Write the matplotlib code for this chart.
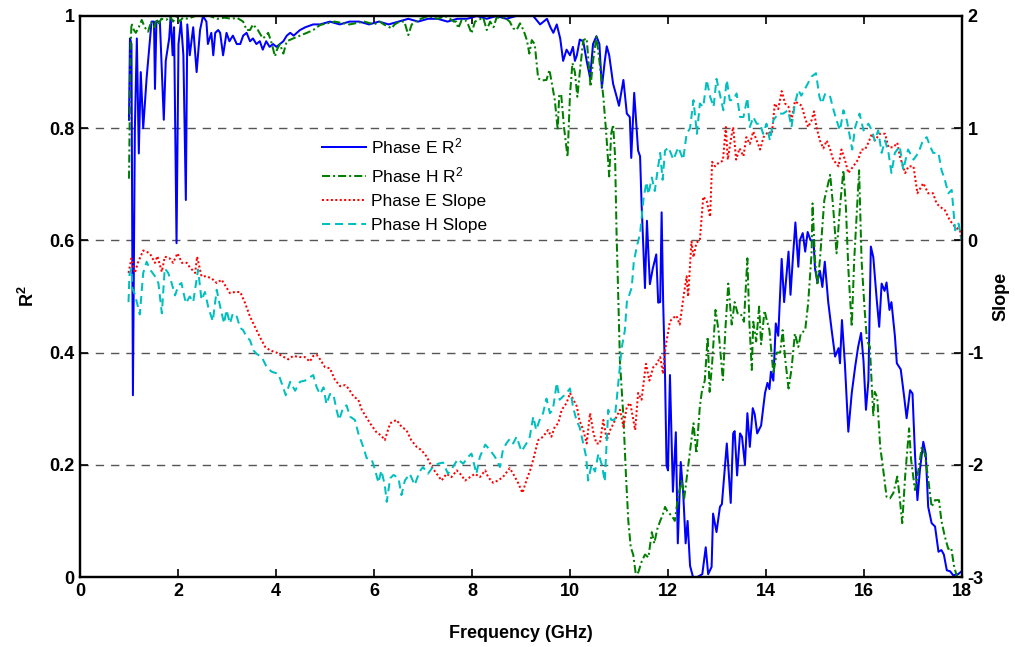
import matplotlib
matplotlib.use("Agg")
import matplotlib.pyplot as plt
from matplotlib.ticker import FixedLocator, FuncFormatter

plt.rcParams['font.family'] = ['Liberation Sans', 'DejaVu Sans']
plt.rcParams['mathtext.default'] = 'regular'
plt.rcParams['axes.unicode_minus'] = False

# ---------------- data ----------------
freq_e_r2 = [1.00, 1.02, 1.05, 1.08, 1.12, 1.16, 1.20, 1.24, 1.29, 1.36, 1.46, 1.51, 1.53, 1.56, 1.63, 1.71, 1.75,
             1.82, 1.85, 1.89, 1.92, 1.97, 2.01, 2.06, 2.11, 2.16, 2.19, 2.24, 2.31, 2.38, 2.45, 2.51, 2.58, 2.61,
             2.68, 2.72, 2.76, 2.82, 2.86, 2.92, 2.99, 3.05, 3.12, 3.20, 3.27, 3.33, 3.40, 3.47, 3.53, 3.60, 3.67,
             3.73, 3.80, 3.87, 3.94, 4.01, 4.08, 4.15, 4.22, 4.29, 4.36, 4.49, 4.60, 4.76, 4.90, 5.10, 5.30, 5.50,
             5.70, 5.90, 6.10, 6.30, 6.50, 6.70, 6.90, 7.10, 7.30, 7.50, 7.70, 7.90, 8.10, 8.30, 8.50, 8.70, 8.90,
             9.10, 9.25, 9.39, 9.46, 9.53, 9.60, 9.66, 9.73, 9.80, 9.86, 9.93, 10.00, 10.06, 10.10, 10.14, 10.20,
             10.27, 10.34, 10.41, 10.47, 10.54, 10.60, 10.65, 10.71, 10.75, 10.80, 10.88, 10.94, 11.00, 11.09, 11.16,
             11.22, 11.25, 11.31, 11.35, 11.39, 11.43, 11.46, 11.53, 11.57, 11.63, 11.69, 11.76, 11.80, 11.84, 11.87,
             11.90, 11.94, 11.97, 12.00, 12.04, 12.10, 12.16, 12.20, 12.26, 12.31, 12.36, 12.40, 12.45, 12.51, 12.60,
             12.70, 12.77, 12.82, 12.89, 12.92, 12.99, 13.06, 13.10, 13.20, 13.28, 13.33, 13.36, 13.41, 13.47, 13.51,
             13.57, 13.62, 13.67, 13.73, 13.77, 13.82, 13.90, 13.98, 14.03, 14.07, 14.10, 14.15, 14.20, 14.25, 14.32,
             14.37, 14.46, 14.50, 14.55, 14.60, 14.66, 14.69, 14.75, 14.80, 14.85, 14.91, 14.97, 15.00, 15.05, 15.10,
             15.15, 15.20, 15.27, 15.34, 15.41, 15.48, 15.51, 15.55, 15.61, 15.68, 15.75, 15.82, 15.88, 15.94, 15.99,
             16.04, 16.09, 16.14, 16.19, 16.26, 16.31, 16.36, 16.42, 16.46, 16.52, 16.56, 16.63, 16.67, 16.75, 16.82,
             16.87, 16.94, 16.99, 17.04, 17.09, 17.14, 17.21, 17.26, 17.31, 17.38, 17.45, 17.52, 17.58, 17.63, 17.69,
             17.76, 17.82, 17.92, 17.99]
phase_e_r2 = [0.815, 0.96, 0.95, 0.324, 0.80, 0.96, 0.755, 0.90, 0.80, 0.89, 0.99, 0.99, 0.87, 0.99, 0.99, 0.815, 0.92,
              0.96, 1.00, 0.93, 0.98, 0.595, 0.95, 0.99, 0.93, 0.672, 0.985, 0.93, 0.98, 0.90, 0.975, 1.00, 0.99, 0.95,
              0.97, 0.93, 0.97, 0.975, 0.97, 0.93, 0.97, 0.955, 0.965, 0.95, 0.95, 0.965, 0.97, 0.955, 0.96, 0.95, 0.955,
              0.94, 0.955, 0.945, 0.95, 0.945, 0.95, 0.955, 0.965, 0.97, 0.965, 0.975, 0.98, 0.985, 0.985, 0.99, 0.985,
              0.99, 0.99, 0.985, 0.99, 0.985, 0.99, 0.995, 0.99, 0.995, 0.995, 0.99, 0.995, 0.995, 1.00, 0.995, 1.00,
              0.995, 1.00, 1.00, 1.00, 0.985, 0.99, 0.995, 0.98, 0.97, 0.985, 0.96, 0.92, 0.94, 0.93, 0.945, 0.92, 0.93,
              0.958, 0.955, 0.92, 0.89, 0.95, 0.964, 0.95, 0.872, 0.92, 0.946, 0.93, 0.879, 0.86, 0.84, 0.886, 0.826,
              0.82, 0.747, 0.863, 0.81, 0.76, 0.75, 0.667, 0.515, 0.635, 0.522, 0.55, 0.575, 0.489, 0.49, 0.65,
              0.495, 0.357, 0.199, 0.19, 0.36, 0.152, 0.258, 0.06, 0.205, 0.15, 0.06, 0.10, 0.02, 0.0, 0.0,
              0.005, 0.053, 0.005, 0.018, 0.113, 0.08, 0.125, 0.13, 0.238, 0.132, 0.256, 0.26, 0.181, 0.256, 0.25,
              0.20, 0.292, 0.232, 0.301, 0.29, 0.256, 0.27, 0.328, 0.346, 0.335, 0.366, 0.35, 0.452, 0.43, 0.567,
              0.49, 0.58, 0.503, 0.57, 0.632, 0.553, 0.60, 0.613, 0.58, 0.615, 0.60, 0.60, 0.55, 0.526, 0.546,
              0.517, 0.562, 0.49, 0.44, 0.393, 0.408, 0.381, 0.458, 0.38, 0.259, 0.328, 0.375, 0.41, 0.435, 0.385,
              0.298, 0.35, 0.589, 0.57, 0.494, 0.446, 0.523, 0.51, 0.525, 0.476, 0.49, 0.43, 0.381, 0.37, 0.321,
              0.283, 0.333, 0.327, 0.22, 0.137, 0.19, 0.241, 0.22, 0.125, 0.096, 0.09, 0.045, 0.048, 0.04, 0.012,
              0.01, 0.003, 0.005, 0.01]

freq_h_r2 = [1.00, 1.03, 1.05, 1.10, 1.14, 1.20, 1.26, 1.32, 1.39, 1.45, 1.52, 1.56, 1.60, 1.66, 1.76, 1.84, 1.90,
             1.97, 2.03, 2.10, 2.20, 2.35, 2.50, 2.65, 2.80, 2.95, 3.10, 3.20, 3.33, 3.40, 3.47, 3.53, 3.63, 3.73,
             3.80, 3.84, 3.90, 3.98, 4.02, 4.08, 4.15, 4.22, 4.35, 4.49, 4.63, 4.76, 4.90, 5.20, 5.50, 5.80, 6.00,
             6.12, 6.20, 6.36, 6.42, 6.52, 6.62, 6.70, 6.77, 6.90, 7.10, 7.30, 7.45, 7.55, 7.63, 7.68, 7.72, 7.79,
             7.86, 7.92, 7.99, 8.06, 8.13, 8.23, 8.30, 8.37, 8.44, 8.50, 8.60, 8.70, 8.77, 8.84, 8.91, 8.98, 9.05,
             9.12, 9.17, 9.22, 9.28, 9.35, 9.42, 9.52, 9.58, 9.63, 9.69, 9.75, 9.78, 9.82, 9.88, 9.95, 10.00, 10.05,
             10.10, 10.15, 10.20, 10.27, 10.34, 10.42, 10.47, 10.54, 10.60, 10.68, 10.74, 10.80, 10.84, 10.88,
             10.92, 10.95, 10.99, 11.02, 11.09, 11.14, 11.19, 11.24, 11.29, 11.35, 11.40, 11.46, 11.53, 11.60,
             11.67, 11.72, 11.78, 11.84, 11.89, 11.94, 12.00, 12.07, 12.14, 12.20, 12.28, 12.33, 12.42, 12.52,
             12.58, 12.65, 12.69, 12.75, 12.81, 12.85, 12.90, 12.97, 13.03, 13.12, 13.17, 13.23, 13.30, 13.36,
             13.42, 13.48, 13.55, 13.62, 13.66, 13.71, 13.74, 13.80, 13.86, 13.90, 13.97, 14.01, 14.07, 14.15,
             14.22, 14.29, 14.34, 14.39, 14.46, 14.52, 14.59, 14.66, 14.71, 14.80, 14.86, 14.93, 14.95, 15.00,
             15.05, 15.10, 15.19, 15.31, 15.37, 15.44, 15.51, 15.58, 15.63, 15.68, 15.75, 15.80, 15.90, 15.95,
             16.01, 16.06, 16.12, 16.19, 16.22, 16.27, 16.33, 16.38, 16.46, 16.53, 16.60, 16.68, 16.73, 16.78,
             16.84, 16.92, 16.96, 17.04, 17.11, 17.18, 17.24, 17.31, 17.38, 17.45, 17.53, 17.58, 17.65, 17.72,
             17.78, 17.84, 17.90, 18.00]
phase_h_r2 = [0.71, 0.93, 0.987, 0.975, 0.97, 0.98, 0.993, 0.98, 0.972, 0.99, 0.98, 0.995, 0.985, 0.995, 0.993, 0.999,
              0.99, 1.00, 0.99, 0.997, 0.995, 1.00, 1.00, 1.00, 0.995, 0.997, 0.995, 0.997, 0.99, 0.975, 0.975, 0.985,
              0.975, 0.96, 0.965, 0.97, 0.955, 0.928, 0.94, 0.95, 0.933, 0.955, 0.96, 0.965, 0.97, 0.975, 0.984,
              0.99, 0.985, 0.99, 0.985, 0.99, 0.985, 0.978, 0.985, 0.99, 0.99, 0.966, 0.985, 0.993, 1.00, 0.995,
              1.00, 0.995, 0.99, 0.99, 0.978, 0.993, 0.993, 0.985, 0.969, 0.99, 0.993, 0.997, 0.975, 0.99, 0.98,
              0.997, 0.997, 0.995, 0.99, 0.978, 0.975, 0.987, 0.975, 0.957, 0.933, 0.957, 0.95, 0.889, 0.885,
              0.886, 0.904, 0.88, 0.85, 0.797, 0.86, 0.86, 0.80, 0.749, 0.86, 0.916, 0.90, 0.856, 0.90, 0.957,
              0.96, 0.874, 0.92, 0.963, 0.92, 0.856, 0.79, 0.714, 0.79, 0.806, 0.75, 0.614, 0.483, 0.383, 0.285,
              0.185, 0.10, 0.053, 0.04, 0.0, 0.01, 0.027, 0.04, 0.035, 0.08, 0.06, 0.085, 0.10, 0.11, 0.125,
              0.115, 0.11, 0.10, 0.14, 0.173, 0.14, 0.203, 0.274, 0.22, 0.304, 0.33, 0.35, 0.428, 0.33, 0.38,
              0.476, 0.44, 0.351, 0.44, 0.523, 0.45, 0.49, 0.47, 0.47, 0.455, 0.568, 0.455, 0.369, 0.455, 0.42,
              0.482, 0.415, 0.475, 0.46, 0.44, 0.363, 0.40, 0.40, 0.44, 0.39, 0.336, 0.37, 0.434, 0.41, 0.434,
              0.44, 0.488, 0.577, 0.666, 0.565, 0.52, 0.565, 0.672, 0.717, 0.66, 0.577, 0.66, 0.725, 0.66, 0.55,
              0.446, 0.565, 0.725, 0.565, 0.48, 0.422, 0.41, 0.286, 0.33, 0.32, 0.232, 0.20, 0.143, 0.14, 0.15,
              0.179, 0.14, 0.096, 0.18, 0.265, 0.21, 0.155, 0.19, 0.232, 0.22, 0.175, 0.125, 0.137, 0.137, 0.10,
              0.072, 0.05, 0.052, 0.018, 0.0, 0.0]

freq_e_slope = [0.99, 1.05, 1.12, 1.18, 1.29, 1.36, 1.43, 1.53, 1.58, 1.67, 1.73, 1.83, 1.90, 1.99, 2.08, 2.18, 2.24,
                2.35, 2.39, 2.48, 2.58, 2.69, 2.79, 2.89, 2.99, 3.06, 3.16, 3.27, 3.37, 3.47, 3.57, 3.67, 3.78,
                3.88, 4.01, 4.12, 4.25, 4.35, 4.49, 4.59, 4.69, 4.76, 4.83, 4.90, 5.00, 5.10, 5.20, 5.31, 5.41,
                5.48, 5.58, 5.68, 5.75, 5.82, 5.92, 6.05, 6.15, 6.22, 6.33, 6.46, 6.56, 6.66, 6.76, 6.87, 6.97,
                7.08, 7.18, 7.28, 7.38, 7.48, 7.58, 7.69, 7.76, 7.86, 7.96, 8.06, 8.16, 8.27, 8.33, 8.43, 8.53,
                8.63, 8.77, 8.84, 8.94, 9.03, 9.11, 9.21, 9.28, 9.35, 9.45, 9.55, 9.62, 9.69, 9.76, 9.83, 9.93,
                10.00, 10.07, 10.14, 10.19, 10.27, 10.34, 10.41, 10.48, 10.54, 10.61, 10.68, 10.75, 10.82, 10.89,
                10.95, 11.02, 11.09, 11.16, 11.23, 11.33, 11.39, 11.46, 11.55, 11.62, 11.70, 11.77, 11.84, 11.90,
                11.93, 11.97, 12.04, 12.11, 12.17, 12.24, 12.31, 12.38, 12.41, 12.48, 12.52, 12.58, 12.65, 12.72,
                12.79, 12.86, 12.90, 12.96, 13.03, 13.12, 13.18, 13.22, 13.29, 13.33, 13.39, 13.46, 13.54, 13.60,
                13.67, 13.74, 13.81, 13.88, 13.95, 14.05, 14.12, 14.18, 14.25, 14.32, 14.39, 14.46, 14.52, 14.59,
                14.66, 14.73, 14.79, 14.86, 14.93, 14.98, 15.03, 15.10, 15.17, 15.24, 15.31, 15.37, 15.48, 15.54,
                15.61, 15.68, 15.78, 15.88, 15.95, 16.02, 16.09, 16.16, 16.22, 16.32, 16.43, 16.50, 16.60, 16.68,
                16.73, 16.84, 16.91, 17.01, 17.09, 17.21, 17.31, 17.41, 17.48, 17.55, 17.65, 17.75, 17.86, 17.96,
                17.99]
phase_e_slope = [-0.29, -0.16, -0.29, -0.20, -0.09, -0.10, -0.12, -0.20, -0.14, -0.28, -0.145, -0.16, -0.20, -0.115,
                 -0.20, -0.20, -0.24, -0.29, -0.145, -0.32, -0.32, -0.34, -0.38, -0.35, -0.42, -0.47, -0.46, -0.46,
                 -0.56, -0.68, -0.77, -0.86, -0.95, -0.98, -1.00, -1.03, -1.06, -1.03, -1.04, -1.04, -1.08, -1.03,
                 -1.02, -1.06, -1.13, -1.14, -1.24, -1.30, -1.29, -1.32, -1.39, -1.42, -1.51, -1.56, -1.63, -1.71,
                 -1.74, -1.78, -1.63, -1.60, -1.66, -1.69, -1.78, -1.84, -1.87, -1.93, -2.02, -2.08, -2.14, -2.08,
                 -2.11, -2.05, -2.08, -2.14, -2.11, -2.08, -2.11, -2.05, -2.11, -2.16, -2.14, -2.11, -2.03, -2.08,
                 -2.16, -2.25, -2.14, -2.02, -1.90, -1.78, -1.75, -1.69, -1.75, -1.66, -1.63, -1.51, -1.45, -1.36,
                 -1.42, -1.48, -1.60, -1.69, -1.81, -1.54, -1.72, -1.81, -1.81, -1.60, -1.78, -1.69, -1.63, -1.57,
                 -1.51, -1.66, -1.48, -1.45, -1.69, -1.36, -1.42, -1.10, -1.25, -1.13, -1.10, -1.04, -1.19, -1.01,
                 -0.90, -0.72, -0.69, -0.67, -0.75, -0.52, -0.32, -0.50, -0.01, -0.15, -0.02, 0.00, 0.39, 0.35,
                 0.21, 0.70, 0.66, 0.69, 0.71, 1.01, 0.72, 0.92, 1.01, 0.72, 0.82, 0.75, 0.92, 0.86, 0.97, 0.89,
                 0.81, 0.92, 0.97, 0.95, 1.22, 1.17, 1.33, 1.22, 1.19, 1.07, 1.24, 1.22, 1.20, 1.10, 1.01, 1.07,
                 1.15, 1.01, 0.89, 0.82, 0.89, 0.81, 0.72, 0.66, 0.81, 0.72, 0.60, 0.66, 0.72, 0.81, 0.81, 0.87,
                 0.95, 0.89, 0.95, 0.95, 0.83, 0.83, 0.87, 0.75, 0.60, 0.66, 0.66, 0.42, 0.51, 0.42, 0.42, 0.33,
                 0.30, 0.27, 0.18, 0.12, 0.09, 0.00]

freq_h_slope = [0.99, 1.01, 1.05, 1.07, 1.12, 1.22, 1.29, 1.36, 1.43, 1.53, 1.60, 1.67, 1.73, 1.80, 1.87, 1.94, 2.01,
                2.07, 2.16, 2.24, 2.31, 2.38, 2.41, 2.48, 2.55, 2.62, 2.71, 2.79, 2.86, 2.94, 2.99, 3.06, 3.12,
                3.20, 3.27, 3.33, 3.40, 3.47, 3.54, 3.60, 3.71, 3.81, 3.91, 4.05, 4.12, 4.20, 4.29, 4.39, 4.49,
                4.59, 4.69, 4.76, 4.83, 4.90, 4.97, 5.03, 5.10, 5.17, 5.24, 5.29, 5.37, 5.44, 5.51, 5.61, 5.68,
                5.78, 5.85, 5.95, 6.02, 6.09, 6.15, 6.22, 6.26, 6.33, 6.40, 6.50, 6.56, 6.63, 6.73, 6.83, 6.93,
                7.00, 7.10, 7.20, 7.31, 7.41, 7.51, 7.61, 7.71, 7.82, 7.92, 7.99, 8.09, 8.16, 8.27, 8.37, 8.47,
                8.57, 8.63, 8.70, 8.77, 8.84, 8.91, 9.01, 9.11, 9.18, 9.25, 9.31, 9.38, 9.45, 9.52, 9.59, 9.65,
                9.73, 9.79, 9.86, 9.93, 10.00, 10.06, 10.13, 10.20, 10.27, 10.33, 10.37, 10.44, 10.51, 10.58,
                10.65, 10.71, 10.78, 10.84, 10.91, 10.98, 11.05, 11.12, 11.16, 11.26, 11.30, 11.36, 11.43, 11.50,
                11.56, 11.60, 11.67, 11.73, 11.78, 11.84, 11.89, 11.94, 12.01, 12.11, 12.21, 12.31, 12.38, 12.45,
                12.52, 12.59, 12.65, 12.72, 12.79, 12.86, 12.93, 12.99, 13.06, 13.13, 13.20, 13.26, 13.33, 13.40,
                13.47, 13.54, 13.62, 13.67, 13.74, 13.81, 13.88, 13.94, 14.01, 14.08, 14.15, 14.25, 14.35, 14.45,
                14.52, 14.59, 14.66, 14.72, 14.82, 14.93, 15.02, 15.09, 15.14, 15.21, 15.31, 15.38, 15.44, 15.51,
                15.58, 15.65, 15.76, 15.82, 15.91, 15.99, 16.09, 16.16, 16.22, 16.29, 16.36, 16.43, 16.50, 16.56,
                16.63, 16.73, 16.80, 16.90, 17.01, 17.11, 17.21, 17.28, 17.35, 17.41, 17.52, 17.58, 17.65, 17.72,
                17.79, 17.86, 17.93, 17.99]
phase_h_slope = [-0.55, -0.30, -0.25, -0.43, -0.48, -0.66, -0.29, -0.19, -0.26, -0.32, -0.38, -0.65, -0.25, -0.29,
                 -0.38, -0.49, -0.40, -0.38, -0.56, -0.50, -0.55, -0.35, -0.26, -0.53, -0.46, -0.60, -0.72, -0.44,
                 -0.59, -0.74, -0.62, -0.74, -0.65, -0.68, -0.78, -0.80, -0.86, -0.89, -0.98, -1.01, -1.04, -1.13,
                 -1.17, -1.19, -1.28, -1.38, -1.26, -1.34, -1.26, -1.25, -1.22, -1.20, -1.31, -1.37, -1.31, -1.46,
                 -1.37, -1.37, -1.52, -1.60, -1.49, -1.47, -1.57, -1.60, -1.72, -1.84, -1.94, -1.95, -2.04, -2.16,
                 -2.05, -2.18, -2.33, -2.12, -2.09, -2.12, -2.27, -2.14, -2.08, -2.18, -2.06, -2.02, -2.08, -2.02,
                 -1.99, -1.98, -2.08, -2.02, -1.95, -1.99, -1.93, -1.90, -2.08, -1.93, -1.82, -1.87, -1.93, -2.02,
                 -1.87, -1.81, -1.77, -1.81, -1.75, -1.88, -1.81, -1.75, -1.57, -1.69, -1.60, -1.54, -1.41, -1.54,
                 -1.51, -1.27, -1.42, -1.39, -1.36, -1.32, -1.48, -1.60, -1.67, -1.81, -1.93, -2.14, -2.00, -2.06,
                 -1.90, -2.00, -2.15, -1.51, -1.60, -1.60, -1.30, -0.97, -0.80, -0.55, -0.42, -0.20, -0.06, 0.06,
                 0.37, 0.52, 0.41, 0.56, 0.44, 0.60, 0.78, 0.54, 0.80, 0.83, 0.72, 0.83, 0.72, 0.95, 1.00, 1.25,
                 0.95, 1.22, 1.19, 1.43, 1.28, 1.19, 1.44, 1.30, 1.16, 1.43, 1.25, 1.25, 1.31, 1.10, 1.10, 1.27,
                 1.01, 1.10, 1.04, 1.04, 0.95, 1.04, 0.89, 1.07, 1.13, 1.13, 1.16, 1.01, 1.22, 1.34, 1.29, 1.37,
                 1.46, 1.49, 1.28, 1.22, 1.31, 1.28, 1.16, 1.07, 0.98, 1.16, 1.07, 0.81, 1.01, 1.13, 0.98, 1.04,
                 0.98, 0.89, 0.98, 0.78, 0.89, 0.78, 0.60, 0.78, 0.84, 0.63, 0.81, 0.72, 0.78, 0.90, 0.92, 0.84,
                 0.78, 0.78, 0.63, 0.54, 0.42, 0.45, 0.09, 0.15, 0.00]

x_ticks = [0, 2, 4, 6, 8, 10, 12, 14, 16, 18]
r2_ticks = [0, 0.2, 0.4, 0.6, 0.8, 1]
slope_ticks = [-3, -2, -1, 0, 1, 2]
grid_levels = [0.2, 0.4, 0.6, 0.8]

# ---------------- figure ----------------
fig = plt.figure(figsize=(10.15, 6.47), dpi=100)
ax = fig.add_axes([80 / 1015, 1 - 577 / 647, 882 / 1015, 561 / 647])
ax2 = ax.twinx()

for g in grid_levels:
    ax.axhline(g, color='#555555', lw=1.0, ls=(0, (6, 5)), zorder=0)

l1, = ax.plot(freq_e_r2, phase_e_r2, color='#0000ff', lw=1.45, ls='-', label='Phase E R$^2$')
l2, = ax.plot(freq_h_r2, phase_h_r2, color='#007f00', lw=1.45, ls=(0, (4, 1.5, 1, 1.5)), label='Phase H R$^2$')
l3, = ax2.plot(freq_e_slope, phase_e_slope, color='#ff0000', lw=1.45, ls=(0, (1, 1.2)), label='Phase E Slope')
l4, = ax2.plot(freq_h_slope, phase_h_slope, color='#00bfbf', lw=1.45, ls=(0, (4, 2.5)), label='Phase H Slope')

ax.set_xlim(0, 18)
ax.set_ylim(0, 1)
ax2.set_ylim(-3, 2)
ax.xaxis.set_major_locator(FixedLocator(x_ticks))
ax.yaxis.set_major_locator(FixedLocator(r2_ticks))
ax2.yaxis.set_major_locator(FixedLocator(slope_ticks))
ax.yaxis.set_major_formatter(FuncFormatter(lambda v, p: f"{v:g}"))

for a in (ax, ax2):
    a.tick_params(direction='in', length=6, width=1.2, labelsize=13, pad=4)
    for lab in a.get_xticklabels() + a.get_yticklabels():
        lab.set_fontweight('bold')
    for s in a.spines.values():
        s.set_linewidth(1.6)
ax.tick_params(top=True, labeltop=False)

ax.set_xlabel('Frequency (GHz)', fontsize=13, fontweight='bold', labelpad=18)
ax.set_ylabel('R$^2$', fontsize=13, fontweight='bold', labelpad=8)
ax2.set_ylabel('Slope', fontsize=13, fontweight='bold', labelpad=6)

leg = ax2.legend(handles=[l1, l2, l3, l4], loc='upper left',
                 bbox_to_anchor=(306 / 1015, 1 - 121 / 647), bbox_transform=fig.transFigure,
                 frameon=False, fontsize=12.5, handlelength=2.55, handletextpad=0.3, labelspacing=0.5)

fig.savefig('out.png', dpi=100)
